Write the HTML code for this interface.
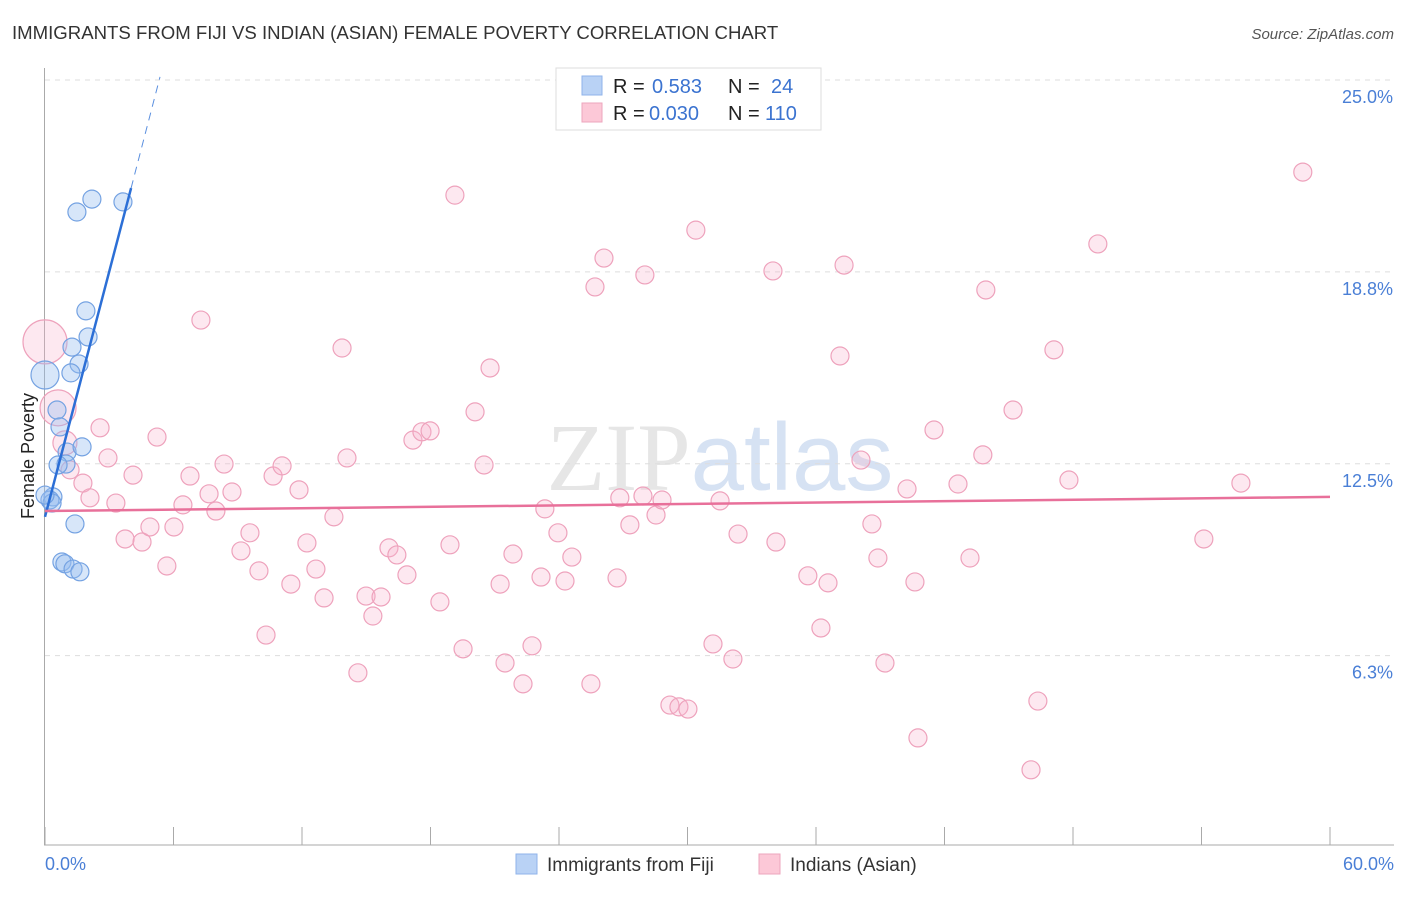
<!DOCTYPE html>
<html><head><meta charset="utf-8"><style>
body{margin:0;background:#fff;font-family:"Liberation Sans",sans-serif}
</style></head><body>
<svg id="c" width="1406" height="892" xmlns="http://www.w3.org/2000/svg" style="font-family:'Liberation Sans',sans-serif">
<text x="12" y="39" font-size="18.6" fill="#333">IMMIGRANTS FROM FIJI VS INDIAN (ASIAN) FEMALE POVERTY CORRELATION CHART</text>
<text x="1394" y="39" font-size="15" fill="#555" font-style="italic" text-anchor="end">Source: ZipAtlas.com</text>
<text x="720" y="490" font-size="96" fill="#e6e6e6" text-anchor="middle" font-family="Liberation Serif">ZIP<tspan fill="#d6e2f3" font-family="Liberation Sans">atlas</tspan></text>
<g id="grid"></g><g id="pts"></g><g id="lines"></g>
<text x="34" y="456" font-size="18" fill="#222" text-anchor="middle" transform="rotate(-90 34 456)">Female Poverty</text>
<text x="45" y="870" font-size="18" fill="#4a7fd6">0.0%</text>
<text x="1394" y="870" font-size="18" fill="#4a7fd6" text-anchor="end">60.0%</text>
<g font-size="20">
<rect x="556" y="68" width="265" height="62" fill="#fff" stroke="#ddd"/>
<rect x="582" y="76" width="20" height="19" fill="#b9d2f5" stroke="#8fb3ea"/>
<rect x="582" y="103" width="20" height="19" fill="#fcc8d7" stroke="#eda6bd"/>
<text x="613" y="93" fill="#222">R =</text>
<text x="652" y="93" fill="#3b73d0">0.583</text>
<text x="728" y="93" fill="#222">N =</text>
<text x="771" y="93" fill="#3b73d0">24</text>
<text x="613" y="120" fill="#222">R =</text>
<text x="649" y="120" fill="#3b73d0">0.030</text>
<text x="728" y="120" fill="#222">N =</text>
<text x="765" y="120" fill="#3b73d0">110</text>
</g>
<g>
<rect x="516" y="854" width="21" height="20" fill="#b9d2f5" stroke="#8fb3ea"/>
<text x="547" y="871" font-size="19" fill="#333">Immigrants from Fiji</text>
<rect x="759" y="854" width="21" height="20" fill="#fcc8d7" stroke="#eda6bd"/>
<text x="790" y="871" font-size="19" fill="#333">Indians (Asian)</text>
</g>
</svg>
<script>
const yTicks=[25,18.75,12.5,6.25];
const yTickLabels=["25.0%","18.8%","12.5%","6.3%"];
const xTicks=[0,6,12,18,24,30,36,42,48,54,60];
const fijiX=[2.19,1.49,3.64,1.91,2.01,1.26,1.59,1.21,0,0.56,0.70,1.03,1.73,0.98,0.61,0.37,0.23,0.33,0,1.40,0.79,0.93,1.31,1.63];
const fijiY=[21.12,20.70,21.03,17.48,16.63,16.30,15.75,15.46,15.39,14.25,13.70,12.88,13.05,12.49,12.46,11.42,11.32,11.22,11.48,10.54,9.30,9.24,9.07,8.98];
const fijiR=[9,9,9,9,9,9,9,9,14,9,9,9,9,9,9,9,9,9,9,9,9,9,9,9];
const indX=[0,0.61,0.93,1.17,1.77,2.10,2.57,2.94,3.31,3.74,4.11,4.53,4.90,5.23,5.69,6.02,6.44,6.77,7.28,7.66,7.98,8.36,8.73,9.15,9.57,9.99,10.32,10.65,11.07,11.48,11.86,12.23,12.65,13.03,13.49,13.87,14.10,14.61,14.99,15.31,15.69,16.06,16.43,16.90,17.18,17.60,17.98,18.44,18.91,19.14,19.52,20.08,20.50,20.78,21.25,21.48,21.85,22.32,22.74,23.16,23.34,23.95,24.28,24.60,25.49,25.68,26.10,26.71,26.84,27.31,27.92,28.01,28.53,28.81,29.18,29.60,30.02,30.39,31.19,31.52,32.12,32.36,33.99,34.13,35.62,36.23,36.56,37.12,37.31,38.10,38.61,38.89,39.22,40.25,40.62,40.76,41.51,42.63,43.19,43.79,43.93,45.20,46.04,46.36,47.11,47.81,49.16,54.11,55.84,58.73];
const indY=[16.47,14.32,13.18,12.30,11.87,11.39,13.67,12.69,11.22,10.05,12.13,9.95,10.44,13.37,9.17,10.44,11.16,12.10,17.18,11.52,10.96,12.49,11.58,9.66,10.25,9.01,6.92,12.10,12.43,8.58,11.65,9.92,9.07,8.13,10.77,16.27,12.69,5.69,8.19,7.54,8.16,9.76,9.53,8.88,13.27,13.54,13.57,8.00,9.86,21.25,6.47,14.19,12.46,15.62,8.58,6.01,9.56,5.33,6.57,8.81,11.03,10.25,8.68,9.46,5.33,18.26,19.20,8.78,11.39,10.51,11.45,18.65,10.83,11.32,4.64,4.58,4.51,20.11,6.63,11.29,6.14,10.21,18.78,9.95,8.85,7.15,8.62,16.01,18.97,12.62,10.54,9.43,6.01,11.68,8.65,3.57,13.60,11.84,9.43,12.79,18.16,14.25,2.53,4.77,16.21,11.97,19.66,10.05,11.87,22.00];
const fijiTrend=[0,10.77,4.02,21.48,5.37,25.1];
const indTrend=[0,10.96,60,11.42];
const NS="http://www.w3.org/2000/svg";
const X=v=>45+v*(1285/60), Y=v=>80+(25-v)*30.7;
function mk(t,a,p){const e=document.createElementNS(NS,t);for(const k in a)e.setAttribute(k,a[k]);p.appendChild(e);return e;}
const g=document.getElementById('grid');
yTicks.forEach((t,i)=>{
 const l=mk('line',{x1:45,x2:1394,y1:Y(t),y2:Y(t),stroke:'#ddd','stroke-dasharray':'5,5'},g);
 
 
 const tx=mk('text',{x:1393,y:Y(t)+23,'font-size':18,fill:'#4a7fd6','text-anchor':'end'},g);
 tx.textContent=yTickLabels[i];
 
 
});
const ax=mk('line',{x1:44.5,x2:44.5,y1:68,y2:845,stroke:'#aaa'},g);


const bx=mk('line',{x1:44,x2:1394,y1:845,y2:845,stroke:'#aaa'},g);


xTicks.forEach(t=>{
 const l=mk('line',{x1:X(t),x2:X(t),y1:827,y2:845,stroke:'#aaa'},g);
 
 
});
const p=document.getElementById('pts');
indX.forEach((v,i)=>{
 const r=i==0?22:i==1?18:i==2?12:9;
 const c=mk('circle',{cx:X(v),cy:Y(indY[i]),r:r,fill:'rgba(248,180,204,0.3)',stroke:'#eea2bc','stroke-width':1.2},p);
 
 
});
fijiX.forEach((v,i)=>{
 const c=mk('circle',{cx:X(v),cy:Y(fijiY[i]),r:fijiR[i],fill:'rgba(150,188,240,0.38)',stroke:'#74a2e2','stroke-width':1.2},p);
 
 
});
const L=document.getElementById('lines');
let t1=mk('line',{x1:X(fijiTrend[0]),y1:Y(fijiTrend[1]),x2:X(fijiTrend[2]),y2:Y(fijiTrend[3]),stroke:'#2c6fd6','stroke-width':2.5},L);


let t2=mk('line',{x1:X(fijiTrend[2]),y1:Y(fijiTrend[3]),x2:X(fijiTrend[4]),y2:Y(fijiTrend[5]),stroke:'#5a8fdf','stroke-width':1,'stroke-dasharray':'8,6'},L);


let t3=mk('line',{x1:X(indTrend[0]),y1:Y(indTrend[1]),x2:X(indTrend[2]),y2:Y(indTrend[3]),stroke:'#e8709a','stroke-width':2.5},L);


</script>
</body></html>
